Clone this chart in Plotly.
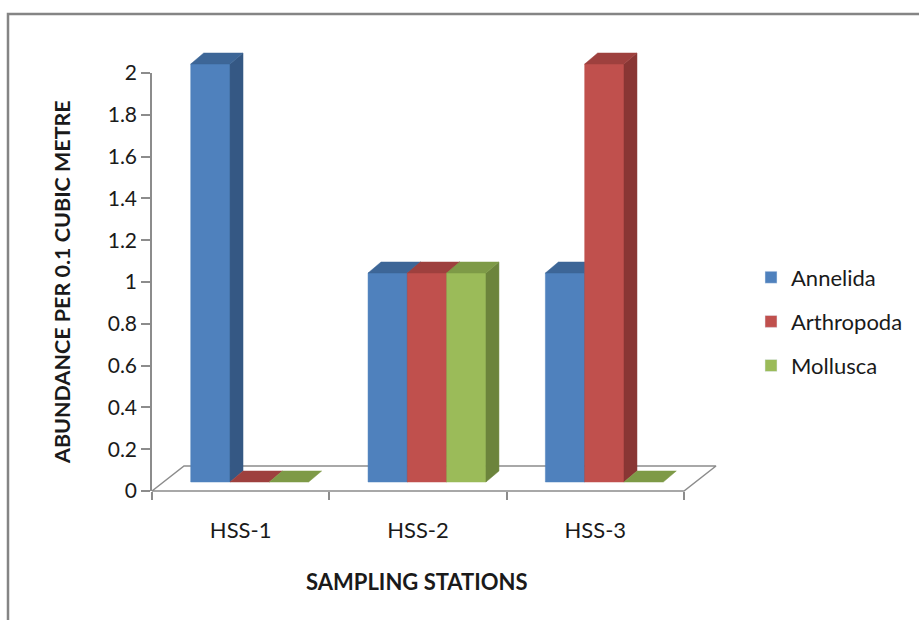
import plotly.graph_objects as go

# Abundance per 0.1 cubic metre at each sampling station
stations = ["HSS-1", "HSS-2", "HSS-3"]
annelida = [2, 1, 1]
arthropoda = [0, 1, 2]
mollusca = [0, 1, 0]
y_ticks = [0, 0.2, 0.4, 0.6, 0.8, 1, 1.2, 1.4, 1.6, 1.8, 2]
y_tick_text = ["0", "0.2", "0.4", "0.6", "0.8", "1", "1.2", "1.4", "1.6", "1.8", "2"]

series = [
    ("Annelida", annelida, "#4F81BD", "#3D6697", "#355884"),
    ("Arthropoda", arthropoda, "#C0504D", "#9E403E", "#893634"),
    ("Mollusca", mollusca, "#9BBB59", "#7E9A47", "#6C843C"),
]

W, H = 919, 620
FONT = "Lato"
TEXT = "#1A1A1A"
GRID = "#8C8C8C"

# pixel scale of the category and value axes
SX = 177.33   # px per category
SY = 209.0    # px per value unit
AX_LEFT, AX_RIGHT, AX_BASE, AX_TOP = 152, 684, 491, 73

# pseudo-3D geometry, in axis units
BAR_W = 39.3 / SX
FRONT_DX, FRONT_DY = 9 / SX, 9 / SY
DEPTH_DX, DEPTH_DY = 13 / SX, 11 / SY
FLOOR_DX, FLOOR_DY = 32 / SX, 25 / SY


def px_x(p):
    return p / W


def px_y(p):
    return 1 - p / H


# drawing subplot spans a wider box so the 3D faces are never clipped
DRAW_L, DRAW_R, DRAW_T, DRAW_B = 100, 780, 30, 545
x_range = [-0.5 - (AX_LEFT - DRAW_L) / SX, -0.5 + (DRAW_R - AX_LEFT) / SX]
y_range = [-(DRAW_B - AX_BASE) / SY, (AX_BASE - DRAW_T) / SY]

fig = go.Figure()

# floor of the 3D plot
n = len(stations)
fx = [-0.5, n - 0.5, n - 0.5 + FLOOR_DX, -0.5 + FLOOR_DX, -0.5]
fy = [0, 0, FLOOR_DY, FLOOR_DY, 0]
fig.add_trace(go.Scatter(x=fx, y=fy, mode="lines", fill="toself",
                         fillcolor="white", line=dict(color=GRID, width=1.5),
                         showlegend=False, hoverinfo="skip",
                         xaxis="x", yaxis="y"))


def poly(xs, ys, px, py):
    xs.extend(px + [px[0], None])
    ys.extend(py + [py[0], None])


for j, (name, vals, c_front, c_top, c_side) in enumerate(series):
    front_x, front_y, side_x, side_y, top_x, top_y = [], [], [], [], [], []
    for i, v in enumerate(vals):
        x0 = i + FRONT_DX - 1.5 * BAR_W + j * BAR_W
        x1 = x0 + BAR_W
        yb = FRONT_DY
        yt = FRONT_DY + v
        if v > 0:
            poly(front_x, front_y, [x0, x1, x1, x0], [yb, yb, yt, yt])
            poly(side_x, side_y, [x1, x1 + DEPTH_DX, x1 + DEPTH_DX, x1],
                 [yb, yb + DEPTH_DY, yt + DEPTH_DY, yt])
        poly(top_x, top_y, [x0, x1, x1 + DEPTH_DX, x0 + DEPTH_DX],
             [yt, yt, yt + DEPTH_DY, yt + DEPTH_DY])
    for xs, ys, col in ((front_x, front_y, c_front), (side_x, side_y, c_side),
                        (top_x, top_y, c_top)):
        if not xs:
            continue
        fig.add_trace(go.Scatter(x=xs, y=ys, mode="lines", fill="toself",
                                 fillcolor=col, line=dict(color=col, width=0.5),
                                 showlegend=False, hoverinfo="skip",
                                 xaxis="x", yaxis="y"))

# legend keys
for j, (name, vals, c_front, c_top, c_side) in enumerate(series):
    fig.add_trace(go.Bar(x=[None], y=[None], name=name, marker_color=c_front,
                         legendgroup=name, xaxis="x2", yaxis="y2"))

fig.update_layout(
    width=W, height=H,
    margin=dict(l=0, r=0, t=0, b=0, autoexpand=False),
    paper_bgcolor="white", plot_bgcolor="rgba(0,0,0,0)",
    font=dict(family=FONT, size=22, color=TEXT),
    showlegend=True,
    legend=dict(x=px_x(751), y=px_y(256.5), xanchor="left", yanchor="top",
                font=dict(family=FONT, size=22, color=TEXT),
                tracegroupgap=12.5, bgcolor="rgba(0,0,0,0)"),
    xaxis=dict(domain=[px_x(DRAW_L), px_x(DRAW_R)], range=x_range,
               visible=False, fixedrange=True, automargin=False),
    yaxis=dict(domain=[px_y(DRAW_B), px_y(DRAW_T)], range=y_range,
               visible=False, fixedrange=True, automargin=False),
    xaxis2=dict(domain=[px_x(AX_LEFT), px_x(AX_RIGHT)], range=[-0.5, n - 0.5],
                anchor="y2", showline=False, showgrid=False, zeroline=False,
                automargin=False,
                tickvals=list(range(n)), ticktext=stations,
                ticks="outside", ticklen=20, tickcolor="rgba(0,0,0,0)",
                tickfont=dict(family=FONT, size=22, color=TEXT),
                minor=dict(tickvals=[k - 0.5 for k in range(n + 1)],
                           ticks="outside", ticklen=8, tickcolor=GRID,
                           tickwidth=1.5, showgrid=False)),
    yaxis2=dict(domain=[px_y(AX_BASE), px_y(AX_TOP)], range=[0, 2],
                anchor="x2", showline=True, linecolor=GRID, linewidth=1.5,
                showgrid=False, zeroline=False, automargin=False,
                tickvals=y_ticks, ticktext=y_tick_text,
                ticks="outside", ticklen=9, tickcolor=GRID, tickwidth=1.5,
                tickfont=dict(family=FONT, size=21, color=TEXT)),
    shapes=[dict(type="rect", xref="paper", yref="paper",
                 x0=px_x(8), x1=1.05, y0=-0.05, y1=px_y(14),
                 line=dict(color="#858585", width=2.5), fillcolor="rgba(0,0,0,0)",
                 layer="below")],
    annotations=[
        dict(text="<b>ABUNDANCE PER 0.1 CUBIC METRE</b>", textangle=-90,
             xref="paper", yref="paper", x=px_x(62), y=px_y(282),
             xanchor="center", yanchor="middle", showarrow=False,
             font=dict(family=FONT, size=21.5, color=TEXT)),
        dict(text="<b>SAMPLING STATIONS</b>",
             xref="paper", yref="paper", x=px_x(417), y=px_y(581),
             xanchor="center", yanchor="middle", showarrow=False,
             font=dict(family=FONT, size=22, color=TEXT)),
    ],
)

fig.write_html("out.html")
